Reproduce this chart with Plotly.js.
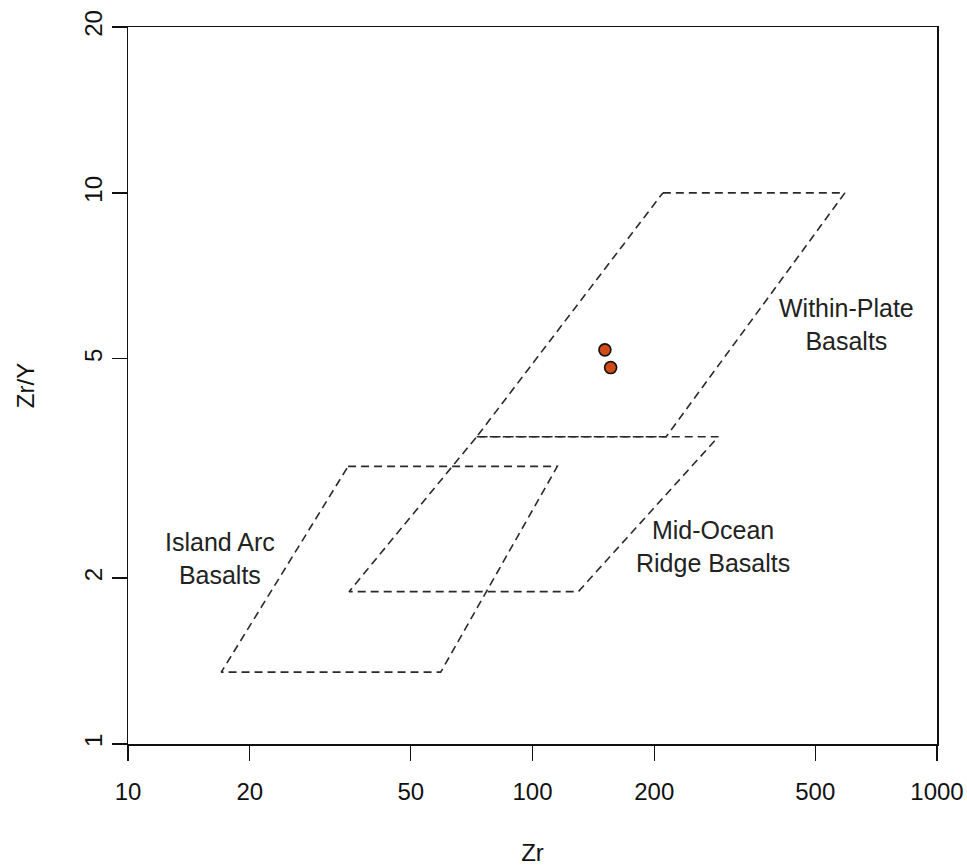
<!DOCTYPE html>
<html>
<head>
<meta charset="utf-8">
<script src="https://cdn.plot.ly/plotly-3.0.1.min.js"></script>
<style>html,body{margin:0;padding:0;background:#fff;}#chart{width:967px;height:866px;}</style>
</head>
<body>
<div id="chart"></div>
<script>
// Sample data
const sampleZr = [151, 156];
const sampleZrY = [5.19, 4.82];

// Field boundaries (Zr, Zr/Y)
const wpbZr  = [210, 592, 214, 72.8, 210];
const wpbZrY = [10, 10, 3.61, 3.61, 10];
const morbZr  = [72.8, 288, 129.8, 35.2, 72.8];
const morbZrY = [3.61, 3.61, 1.89, 1.89, 3.61];
const iabZr  = [35.0, 115.2, 59.3, 17.0, 35.0];
const iabZrY = [3.19, 3.19, 1.35, 1.35, 3.19];

// Field labels
const labelText = ["Within-Plate<br>Basalts", "Mid-Ocean<br>Ridge Basalts", "Island Arc<br>Basalts"];
const labelZr = [596, 279.5, 16.9];
const labelZrY = [5.76, 2.278, 2.175];

const xTicks = [10, 20, 50, 100, 200, 500, 1000];
const yTicks = [1, 2, 5, 10, 20];

const font = "Liberation Sans, Arial, sans-serif";
const dashLine = {color: "#2a2a2a", width: 1.6, dash: "8px,5px"};

const traces = [
  {x: wpbZr, y: wpbZrY, mode: "lines", line: dashLine, hoverinfo: "skip"},
  {x: morbZr, y: morbZrY, mode: "lines", line: dashLine, hoverinfo: "skip"},
  {x: iabZr, y: iabZrY, mode: "lines", line: dashLine, hoverinfo: "skip"},
  {x: sampleZr, y: sampleZrY, mode: "markers",
   marker: {size: 12, color: "#d24a16", line: {color: "#111111", width: 1.6}}}
];

const annotations = labelText.map((t, i) => ({
  x: Math.log10(labelZr[i]), y: Math.log10(labelZrY[i]), xref: "x", yref: "y",
  text: t, showarrow: false, align: "center",
  font: {family: font, size: 25, color: "#222222"}
}));

const layout = {
  width: 967, height: 866,
  margin: {l: 128, r: 30, t: 27, b: 122},
  paper_bgcolor: "#ffffff", plot_bgcolor: "#ffffff",
  showlegend: false,
  font: {family: font, size: 24, color: "#111111"},
  xaxis: {
    type: "log", range: [1, 3], tickvals: xTicks, ticktext: xTicks.map(String),
    showgrid: false, zeroline: false, showline: true, mirror: true,
    linecolor: "#111111", linewidth: 1.5,
    ticks: "outside", ticklen: 15, tickwidth: 1.3, tickcolor: "#111111",
    tickfont: {family: font, size: 24, color: "#111111"},
    ticklabelstandoff: 11,
    title: {text: "Zr", font: {family: font, size: 24, color: "#111111"}, standoff: 40}
  },
  yaxis: {
    type: "log", range: [0, Math.log10(20)], tickvals: yTicks, ticktext: yTicks.map(String),
    tickangle: -90,
    showgrid: false, zeroline: false, showline: true, mirror: true,
    linecolor: "#111111", linewidth: 1.5,
    ticks: "outside", ticklen: 15, tickwidth: 1.3, tickcolor: "#111111",
    tickfont: {family: font, size: 24, color: "#111111"},
    ticklabelstandoff: 0,
    title: {text: "Zr/Y", font: {family: font, size: 24, color: "#111111"}, standoff: 38}
  },
  annotations: annotations
};

Plotly.newPlot("chart", traces, layout, {displayModeBar: false, staticPlot: true});
</script>
</body>
</html>
